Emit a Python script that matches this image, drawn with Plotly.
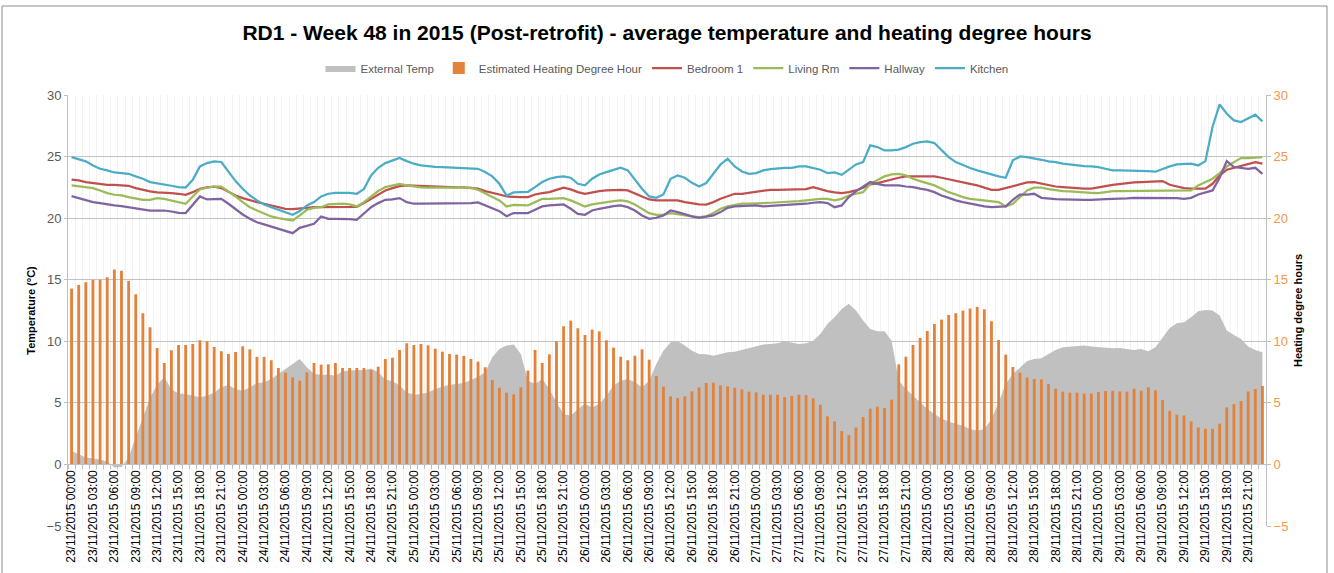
import pandas as pd
import plotly.graph_objects as go

# ---------------- data (hourly, 23/11/2015 00:00 .. 29/11/2015 23:00) ----------------
times = pd.date_range("2015-11-23 00:00", periods=168, freq="h")
categories = [t.strftime("%d/%m/%Y %H:%M") for t in times]

external_temp = [
    1.1, 0.84, 0.57, 0.49, 0.4, 0.24, -0.24, -0.2, 0.57, 2.2, 3.8, 5.4, 6.5, 7.07, 6.1, 5.77, 5.72, 5.58, 5.45, 5.58,
    5.85, 6.26, 6.45, 6.12, 5.99, 6.26, 6.59, 6.67, 6.94, 7.34, 7.75, 8.16, 8.56, 7.89, 7.34, 7.29, 7.29, 7.21, 7.56,
    7.62, 7.62, 7.67, 7.8, 7.48, 6.9,
    6.75, 6.4, 5.85, 5.66, 5.72, 5.85, 6.12, 6.31, 6.48, 6.53, 6.61, 6.86, 7.13, 7.48, 8.7, 9.38, 9.65, 9.73, 8.97,
    6.8, 6.53, 6.94, 6.12, 5.04, 4.09, 3.96, 4.5, 4.9, 4.63, 4.9, 5.58, 6.4, 6.8, 6.94, 6.67, 6.26, 6.8, 8.16, 9.24,
    9.92, 10.0, 9.65, 9.24, 8.97, 8.95,
    8.83, 8.97, 9.1, 9.16, 9.3, 9.46, 9.57, 9.73, 9.78, 9.84, 10.0, 9.86, 9.78, 9.84, 10.05, 10.6, 11.41, 11.95,
    12.63, 13.04, 12.49, 11.68, 11.0, 10.81, 10.81, 10.05, 6.8, 6.12, 5.58, 5.04, 4.5, 4.09, 3.74, 3.47, 3.28, 3.14,
    2.87, 2.74, 2.87, 3.69, 5.04, 6.53, 7.34, 7.89, 8.4,
    8.56, 8.62, 8.97, 9.3, 9.51, 9.57, 9.57, 9.65, 9.57, 9.51, 9.43, 9.43, 9.46, 9.38, 9.3, 9.38, 9.19, 9.51, 10.33,
    11.08, 11.46, 11.54, 11.95, 12.44, 12.55, 12.49, 12.09, 10.87, 10.51, 10.19, 9.57, 9.3, 9.1,
]

heating_degree_hours = [
    14.28, 14.58, 14.8, 14.99, 15.0, 15.2, 15.83, 15.72, 14.9, 13.82, 12.28, 11.14, 9.46, 8.24, 9.27, 9.7, 9.7, 9.78,
    10.08, 10.0, 9.54, 9.19, 8.97, 9.13, 9.59, 9.35, 8.73, 8.73, 8.46, 7.83, 7.45, 7.07, 6.8, 7.48, 8.24, 8.1, 8.13,
    8.24, 7.83, 7.83, 7.83, 7.83, 7.67, 7.94, 8.56,
    8.67, 9.3, 9.84, 9.7, 9.78, 9.67, 9.4, 9.16, 8.97, 8.92, 8.81, 8.56, 8.35, 7.89, 6.86, 6.23, 5.83, 5.69, 6.26,
    7.62, 9.3, 8.24, 8.94, 10.0, 11.22, 11.68, 11.06, 10.51, 10.95, 10.81, 10.08, 9.49, 8.75, 8.46, 8.83, 9.35, 8.51,
    7.18, 6.31, 5.53, 5.39, 5.53, 5.93, 6.26, 6.61,
    6.64, 6.42, 6.34, 6.23, 6.1, 5.91, 5.85, 5.66, 5.66, 5.66, 5.47, 5.56, 5.66, 5.64, 5.37, 4.85, 3.9, 3.5, 2.71,
    2.38, 3.0, 3.85, 4.53, 4.69, 4.58, 5.26, 8.13, 8.75, 9.7, 10.27, 10.84, 11.41, 11.76, 12.14, 12.28, 12.49, 12.66,
    12.79, 12.6, 11.63, 10.11, 8.92, 7.91, 7.45, 7.05,
    6.94, 6.91, 6.53, 6.15, 5.91, 5.83, 5.83, 5.75, 5.75, 5.88, 5.96, 5.99, 5.93, 5.91, 6.15, 5.99, 6.26, 6.02, 5.23,
    4.36, 4.04, 3.98, 3.5, 3.0, 2.9, 2.9, 3.31, 4.63, 4.9, 5.15, 5.93, 6.12, 6.37,
]

bedroom_1 = [
    23.12, 23.06, 22.93, 22.85, 22.79, 22.71, 22.71, 22.68, 22.63, 22.44, 22.3, 22.17, 22.09, 22.09, 22.03, 21.98,
    21.9, 22.11, 22.39, 22.49, 22.55, 22.44, 22.11, 21.84, 21.63, 21.44, 21.3, 21.17, 21.03, 20.89, 20.76, 20.73,
    20.76, 20.84, 20.89, 20.89, 20.89, 20.89, 20.89, 20.89, 20.92, 21.22, 21.57, 21.92, 22.25,
    22.44, 22.6, 22.66, 22.63, 22.63, 22.6, 22.52, 22.49, 22.49, 22.49, 22.49, 22.47, 22.39, 22.2, 22.03, 21.92,
    21.76, 21.71, 21.71, 21.71, 21.92, 22.03, 22.11, 22.3, 22.47, 22.33, 22.11, 21.98, 22.11, 22.2, 22.25, 22.3,
    22.3, 22.25, 22.03, 21.76, 21.52, 21.44, 21.44, 21.44, 21.44, 21.3, 21.22, 21.11, 21.1,
    21.3, 21.57, 21.76, 21.98, 21.98, 22.06, 22.11, 22.2, 22.3, 22.3, 22.3, 22.3, 22.3, 22.36, 22.52, 22.33, 22.2,
    22.09, 22.03, 22.11, 22.25, 22.47, 22.74, 22.85, 23.01, 23.12, 23.28, 23.39, 23.39, 23.39, 23.39, 23.39, 23.28,
    23.17, 23.06, 22.93, 22.79, 22.66, 22.47, 22.3, 22.3, 22.45, 22.6, 22.8, 22.9,
    22.93, 22.79, 22.66, 22.57, 22.52, 22.47, 22.47, 22.39, 22.39, 22.47, 22.6, 22.71, 22.79, 22.87, 22.9, 22.93,
    22.95, 22.98, 23.01, 22.71, 22.57, 22.44, 22.39, 22.39, 22.39, 22.79, 23.47, 23.93, 24.09, 24.2, 24.36, 24.55,
    24.42,
]

living_rm = [
    22.66, 22.57, 22.52, 22.44, 22.25, 22.03, 21.9, 21.84, 21.71, 21.57, 21.49, 21.49, 21.63, 21.57, 21.44, 21.25,
    21.17, 21.76, 22.33, 22.47, 22.57, 22.57, 22.2, 21.76, 21.3, 20.89, 20.62, 20.35, 20.14, 20.0, 19.89, 19.81,
    20.22, 20.68, 20.84, 20.89, 21.11, 21.17, 21.17, 21.11, 20.95, 21.3, 21.76, 22.2, 22.52,
    22.66, 22.79, 22.66, 22.57, 22.49, 22.47, 22.47, 22.47, 22.47, 22.47, 22.47, 22.47, 22.3, 21.98, 21.71, 21.44,
    20.95, 21.08, 21.03, 21.03, 21.3, 21.57, 21.57, 21.57, 21.63, 21.44, 21.17, 20.95, 21.11, 21.22, 21.3, 21.38,
    21.44, 21.36, 21.11, 20.76, 20.41, 20.27, 20.27, 20.41, 20.3, 20.22, 20.14, 20.08, 20.15,
    20.41, 20.76, 20.95, 21.08, 21.17, 21.17, 21.17, 21.22, 21.25, 21.27, 21.3, 21.36, 21.38, 21.44, 21.52, 21.57,
    21.57, 21.44, 21.57, 21.84, 21.98, 22.11, 22.79, 23.12, 23.39, 23.55, 23.6, 23.47, 23.2, 23.01, 22.85, 22.66,
    22.39, 22.11, 21.92, 21.71, 21.57, 21.49, 21.44, 21.38, 21.3, 20.95, 21.17, 21.71, 22.25,
    22.47, 22.47, 22.36, 22.25, 22.2, 22.17, 22.11, 22.09, 22.06, 22.03, 22.11, 22.2, 22.2, 22.2, 22.2, 22.2, 22.2,
    22.25, 22.25, 22.25, 22.2, 22.2, 22.25, 22.66, 22.93, 23.2, 23.66, 24.2, 24.55, 24.88, 24.88, 24.9, 24.96,
]

hallway = [
    21.79, 21.63, 21.44, 21.3, 21.22, 21.11, 21.03, 20.98, 20.89, 20.76, 20.68, 20.62, 20.62, 20.62, 20.54, 20.43,
    20.41, 21.11, 21.76, 21.52, 21.57, 21.57, 21.17, 20.7, 20.3, 19.95, 19.67, 19.49, 19.32, 19.13, 19.0, 18.78,
    19.21, 19.4, 19.54, 20.14, 19.95, 19.95, 19.95, 19.92, 19.86, 20.41, 20.89, 21.22, 21.49,
    21.52, 21.63, 21.3, 21.17, 21.17, 21.17, 21.17, 21.17, 21.17, 21.17, 21.17, 21.22, 21.27, 21.03, 20.84, 20.57,
    20.16, 20.41, 20.41, 20.41, 20.68, 20.95, 21.03, 21.08, 21.11, 20.76, 20.35, 20.27, 20.62, 20.76, 20.89, 20.98,
    21.03, 20.89, 20.62, 20.22, 19.95, 20.03, 20.22, 20.62, 20.49, 20.3, 20.14, 20.03, 20.1,
    20.22, 20.49, 20.84, 20.95, 20.98, 20.98, 21.03, 20.95, 20.98, 21.0, 21.03, 21.08, 21.11, 21.17, 21.25, 21.3,
    21.22, 20.89, 21.03, 21.71, 22.17, 22.52, 22.93, 22.79, 22.66, 22.66, 22.66, 22.57, 22.52, 22.39, 22.3, 22.11,
    21.84, 21.65, 21.44, 21.3, 21.17, 21.03, 20.95, 20.89, 20.89, 20.95, 21.49, 21.92, 21.92,
    21.98, 21.65, 21.57, 21.54, 21.52, 21.49, 21.49, 21.49, 21.49, 21.49, 21.54, 21.57, 21.57, 21.6, 21.65, 21.65,
    21.65, 21.65, 21.65, 21.65, 21.63, 21.57, 21.65, 21.92, 22.11, 22.25, 23.28, 24.63, 24.15, 24.07, 24.01, 24.09,
    23.6,
]

kitchen = [
    24.96, 24.77, 24.61, 24.28, 24.01, 23.88, 23.71, 23.66, 23.6, 23.39, 23.2, 22.93, 22.85, 22.74, 22.63, 22.52,
    22.49, 23.12, 24.2, 24.47, 24.61, 24.56, 23.74, 23.01, 22.39, 21.84, 21.44, 21.11, 20.89, 20.68, 20.43, 20.27,
    20.57, 21.03, 21.3, 21.76, 21.98, 22.06, 22.06, 22.06, 21.98, 22.36, 23.47, 24.09, 24.47,
    24.69, 24.88, 24.63, 24.42, 24.28, 24.2, 24.17, 24.15, 24.12, 24.09, 24.04, 24.01, 24.01, 23.74, 23.39, 22.79,
    21.84, 22.09, 22.14, 22.14, 22.52, 22.93, 23.2, 23.33, 23.39, 23.28, 22.79, 22.66, 23.2, 23.55, 23.74, 23.93,
    24.09, 23.88, 23.12, 22.39, 21.76, 21.65, 21.92, 23.2, 23.47, 23.28, 22.87, 22.57, 22.85,
    23.6, 24.36, 24.82, 24.2, 23.79, 23.6, 23.66, 23.88, 23.98, 24.04, 24.09, 24.09, 24.2, 24.2, 24.09, 23.93, 23.66,
    23.71, 23.52, 23.93, 24.36, 24.55, 25.91, 25.77, 25.5, 25.5, 25.56, 25.77, 26.04, 26.18, 26.23, 26.1, 25.56,
    24.96, 24.55, 24.28, 24.07, 23.88, 23.74, 23.55, 23.39, 23.28, 24.69, 25.01, 24.96,
    24.88, 24.74, 24.61, 24.55, 24.42, 24.34, 24.28, 24.23, 24.2, 24.15, 24.01, 23.88, 23.88, 23.88, 23.88, 23.88,
    23.82, 23.77, 24.01, 24.2, 24.36, 24.42, 24.42, 24.28, 24.63, 27.4, 29.24, 28.48, 27.94, 27.8, 28.08, 28.4,
    27.86,
]

tick_labels = [c if i % 3 == 0 else "" for i, c in enumerate(categories)]

# ---------------- figure ----------------
FONT = "Liberation Sans"
W, H = 1334, 573
L, R, T, B = 68, 68, 95, 47
PW, PH = W - L - R, H - T - B

fig = go.Figure()

fig.add_trace(go.Scatter(
    x=categories, y=external_temp, name="External Temp", mode="lines",
    fill="tozeroy", fillcolor="#C0C0C0", line=dict(width=0, color="#C0C0C0"), yaxis="y",
))
fig.add_trace(go.Bar(
    x=categories, y=heating_degree_hours, name="Estimated Heating Degree Hour",
    marker=dict(color="#E3823A", line=dict(width=0)), width=0.4, yaxis="y2",
))
for name, vals, col in [
    ("Bedroom 1", bedroom_1, "#C0504D"),
    ("Living Rm", living_rm, "#9BBB59"),
    ("Hallway", hallway, "#8064A2"),
    ("Kitchen", kitchen, "#4BACC6"),
]:
    fig.add_trace(go.Scatter(x=categories, y=vals, name=name, mode="lines",
                             line=dict(color=col, width=2.25), yaxis="y"))

fig.update_layout(
    width=W, height=H,
    margin=dict(l=L, r=R, t=T, b=B, autoexpand=False),
    paper_bgcolor="white", plot_bgcolor="white",
    font=dict(family=FONT, size=11, color="#404040"),
    showlegend=True,
    title=dict(
        text="<b>RD1 - Week 48 in 2015 (Post-retrofit) - average temperature and heating degree hours</b>",
        x=0.5, xanchor="center", y=1 - 33 / H, yref="container", yanchor="middle",
        font=dict(family=FONT, size=21, color="#000000"),
    ),
    legend=dict(orientation="h", x=0.5, xanchor="center", y=(H - B - 68) / PH, yanchor="middle",
                font=dict(family=FONT, size=11.5, color="#595959"), traceorder="normal",
                bgcolor="rgba(0,0,0,0)"),
    xaxis=dict(
        type="category", tickmode="array", tickvals=categories, ticktext=tick_labels,
        tickangle=-90, tickfont=dict(family=FONT, size=12, color="#000000"),
        anchor="free", position=5 / 35, tickson="boundaries",
        showgrid=True, gridcolor="#F2F2F2", gridwidth=1,
        showline=True, linecolor="#BFBFBF", ticks="outside", ticklen=4, tickcolor="#BFBFBF",
        zeroline=False,
    ),
    yaxis=dict(
        range=[-5, 30], tick0=0, dtick=5, showgrid=True, gridcolor="#C3C3C3", gridwidth=1,
        zeroline=False, showline=True, linecolor="#BFBFBF", ticks="outside", ticklen=3,
        tickcolor="#BFBFBF", tickfont=dict(family=FONT, size=13, color="#595959"),
        title=dict(text="<b>Temperature (°C)</b>", font=dict(family=FONT, size=11, color="#000000"),
                   standoff=8),
    ),
    yaxis2=dict(
        range=[-5, 30], tick0=0, dtick=5, overlaying="y", side="right", showgrid=False,
        zeroline=False, showline=True, linecolor="#BFBFBF", ticks="outside", ticklen=4,
        tickcolor="#BFBFBF", tickfont=dict(family=FONT, size=13, color="#F79646"),
        title=dict(text="<b>Heating degree hours</b>", font=dict(family=FONT, size=11, color="#000000"),
                   standoff=6),
    ),
    bargap=0.6,
)

# outer chart frame
fig.add_shape(type="rect", xref="paper", yref="paper",
              x0=(2 - L) / PW, x1=(1327 - L) / PW, y0=(H - B - 640) / PH, y1=(H - B - 6) / PH,
              line=dict(color="#8C8C8C", width=1), fillcolor="rgba(0,0,0,0)", layer="below")

fig.write_html("out.html", config={"displayModeBar": False},
               post_script="document.body.style.margin='0';document.body.style.overflow='hidden';")
